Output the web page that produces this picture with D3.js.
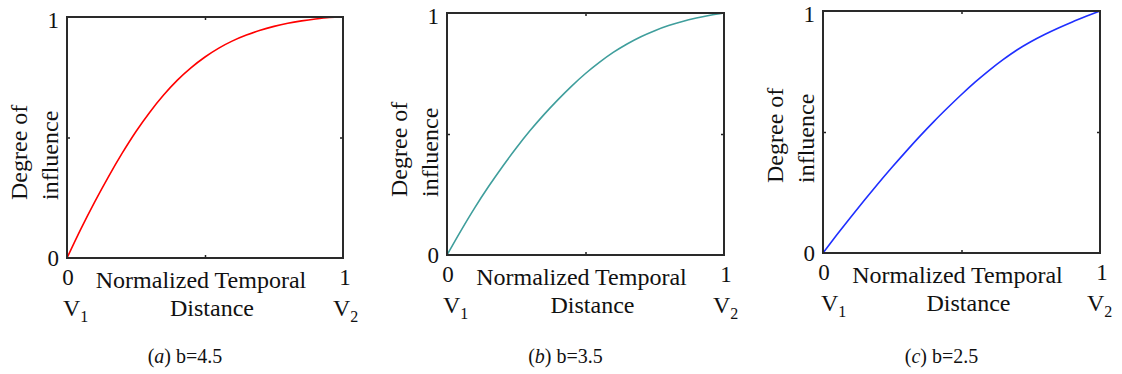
<!DOCTYPE html>
<html>
<head>
<meta charset="utf-8">
<script src="https://cdn.jsdelivr.net/npm/d3@7"></script>
<style>
  html, body { margin: 0; padding: 0; background: #fff; }
</style>
</head>
<body>
<svg id="chart" width="1122" height="374"></svg>
<script>
// ---- data ----
const distance = [0, 0.05, 0.1, 0.15, 0.2, 0.25, 0.3, 0.35, 0.4, 0.45, 0.5,
                  0.55, 0.6, 0.65, 0.7, 0.75, 0.8, 0.85, 0.9, 0.95, 1];
const influenceA = [0, 0.12, 0.232, 0.337, 0.435, 0.525, 0.605, 0.676, 0.738, 0.79, 0.834,
                    0.871, 0.901, 0.925, 0.945, 0.961, 0.974, 0.984, 0.992, 0.998, 1];
const influenceB = [0, 0.10, 0.195, 0.283, 0.365, 0.442, 0.514, 0.58, 0.641, 0.698, 0.75,
                    0.796, 0.837, 0.872, 0.902, 0.927, 0.948, 0.965, 0.979, 0.991, 1];
const influenceC = [0, 0.075, 0.148, 0.219, 0.288, 0.355, 0.42, 0.483, 0.543, 0.6, 0.655,
                    0.707, 0.755, 0.799, 0.839, 0.873, 0.903, 0.93, 0.955, 0.978, 1];
const captionLetters = ["a", "b", "c"];
const captionParams = ["b=4.5", "b=3.5", "b=2.5"];
const xTickValues = [0, 1];
const yTickValues = [0, 1];
const midTick = [0.5];
const yLabelLines = ["Degree of", "influence"];
const xLabelLines = ["Normalized Temporal", "Distance"];
const endLabels = ["1", "2"];

// ---- layout (positions / styles) ----
const FONT = "\"Liberation Serif\", \"Tinos\", \"Times New Roman\", serif";
const panels = [
  { l: 67,  r: 343,  t: 17, b: 258, color: "#ff0000", values: influenceA, yStart: 58, v1: -4, v2: -10 },
  { l: 447, r: 724,  t: 13, b: 255, color: "#3f9e9c", values: influenceB, yStart: 58, v1: -4, v2: -11 },
  { l: 823, r: 1100, t: 11, b: 253, color: "#1f2fff", values: influenceC, yStart: 70, v1: -2, v2: -13 }
];

const svg = d3.select("#chart").attr("font-family", FONT);

panels.forEach((p, i) => {
  const x = d3.scaleLinear().domain([0, 1]).range([p.l, p.r]);
  const y = d3.scaleLinear().domain([0, 1]).range([p.b, p.t]);
  const g = svg.append("g").attr("font-family", FONT);
  const mid = (p.l + p.r) / 2;

  // inward mid ticks on all four sides
  const tickLen = 3;
  g.append("g").attr("transform", `translate(0,${p.b})`)
    .call(d3.axisTop(x).tickValues(midTick).tickSize(tickLen).tickFormat(""))
    .call(s => s.select(".domain").remove());
  g.append("g").attr("transform", `translate(0,${p.t})`)
    .call(d3.axisBottom(x).tickValues(midTick).tickSize(tickLen).tickFormat(""))
    .call(s => s.select(".domain").remove());
  g.append("g").attr("transform", `translate(${p.l},0)`)
    .call(d3.axisRight(y).tickValues(midTick).tickSize(tickLen).tickFormat(""))
    .call(s => s.select(".domain").remove());
  g.append("g").attr("transform", `translate(${p.r},0)`)
    .call(d3.axisLeft(y).tickValues(midTick).tickSize(tickLen).tickFormat(""))
    .call(s => s.select(".domain").remove());
  g.selectAll(".tick line").attr("stroke", "#222").attr("stroke-width", 1.5);

  // curve
  const line = d3.line()
    .x((d, j) => x(distance[j]))
    .y(d => y(d))
    .curve(d3.curveMonotoneX);
  g.append("path")
    .datum(p.values)
    .attr("fill", "none")
    .attr("stroke", p.color)
    .attr("stroke-width", 1.6)
    .attr("d", line);

  // frame
  g.append("rect")
    .attr("x", x(0)).attr("y", y(1))
    .attr("width", x(1) - x(0)).attr("height", y(0) - y(1))
    .attr("fill", "none").attr("stroke", "#2a2a2a").attr("stroke-width", 2);

  const txt = (sel) => sel.attr("font-family", FONT).attr("fill", "#111");

  // y tick labels
  g.selectAll(".ytl").data(yTickValues).enter().append("text")
    .call(txt)
    .attr("x", p.l - 8)
    .attr("y", d => d === 0 ? y(d) + 8 : y(d) + 11)
    .attr("text-anchor", "end")
    .attr("font-size", 23)
    .text(d => d);

  // x tick labels
  g.selectAll(".xtl").data(xTickValues).enter().append("text")
    .call(txt)
    .attr("x", d => x(d) + (d === 0 ? 1 : 2))
    .attr("y", p.b + 27)
    .attr("text-anchor", "middle")
    .attr("font-size", 23)
    .text(d => d);

  // x label
  g.append("text").call(txt).attr("x", mid - 4).attr("y", p.b + 30)
    .attr("text-anchor", "middle").attr("font-size", 24).text(xLabelLines[0]);
  g.append("text").call(txt).attr("x", mid + 7).attr("y", p.b + 58)
    .attr("text-anchor", "middle").attr("font-size", 24).text(xLabelLines[1]);

  // V1 / V2
  [p.l + p.v1, p.r + p.v2].forEach((xx, k) => {
    const t = g.append("text").call(txt).attr("x", xx).attr("y", p.b + 58).attr("font-size", 24);
    t.append("tspan").text("V");
    t.append("tspan").attr("font-size", 16).attr("dy", 6).text(endLabels[k]);
  });

  // y label (rotated, start-anchored)
  const ys = p.b - p.yStart;
  g.append("text").call(txt)
    .attr("transform", `translate(${p.l - 40},${ys}) rotate(-90)`)
    .attr("font-size", 24).text(yLabelLines[0]);
  g.append("text").call(txt)
    .attr("transform", `translate(${p.l - 9},${ys}) rotate(-90)`)
    .attr("font-size", 24).text(yLabelLines[1]);

  // caption
  const cap = g.append("text").call(txt).attr("x", mid - 20).attr("y", 363)
    .attr("text-anchor", "middle").attr("font-size", 20);
  cap.append("tspan").text("(");
  cap.append("tspan").attr("font-style", "italic").text(captionLetters[i]);
  cap.append("tspan").text(") " + captionParams[i]);
});
</script>
</body>
</html>
